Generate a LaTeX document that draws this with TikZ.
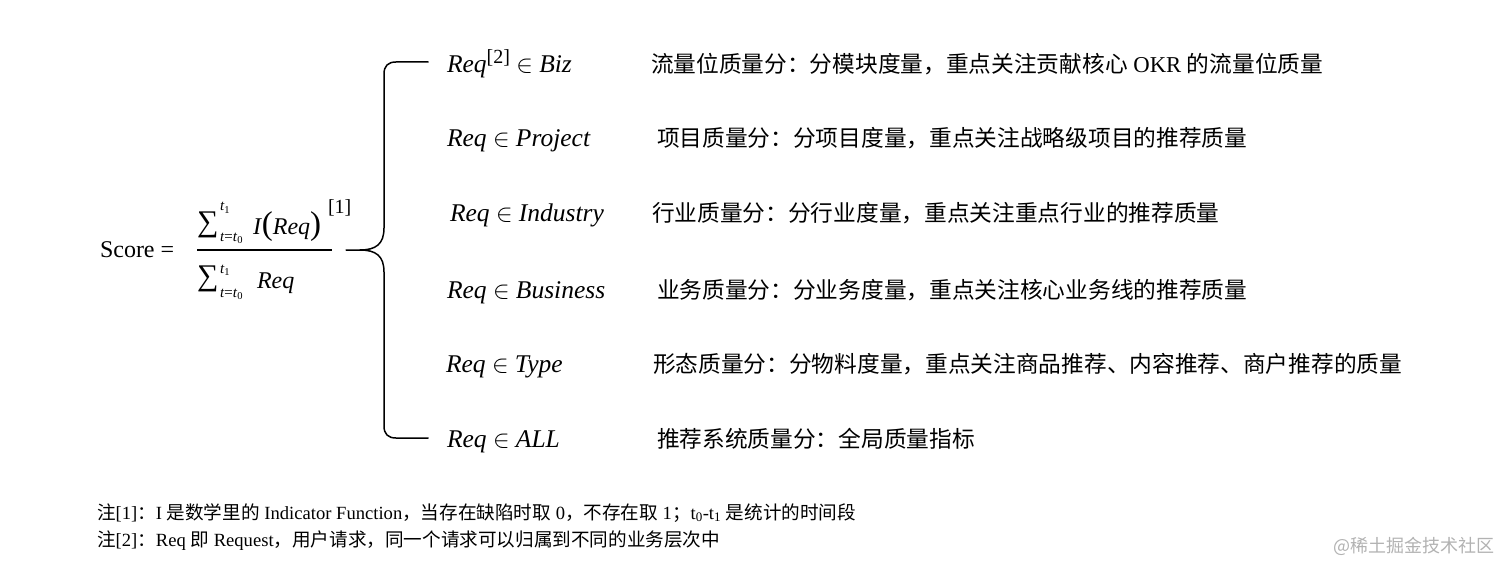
\documentclass[tikz,border=0pt]{standalone}
\usepackage{fontspec}
\setmainfont{Liberation Serif}
\newfontfamily\cjk{Noto Sans CJK SC}
\tikzset{
  base/.style={anchor=base west, inner sep=0pt, outer sep=0pt},
  lbl/.style={base, font=\fontsize{25.5}{30}\selectfont},
  zh/.style={base, font=\cjk\fontsize{22.7}{28}\selectfont},
  note/.style={base, font=\fontsize{18.6}{22}\selectfont},
  big/.style={base, font=\fontsize{24}{28}\selectfont},
  sig/.style={base, font=\fontsize{30}{34}\selectfont},
  lim/.style={base, font=\fontsize{15}{18}\selectfont},
  foot/.style={base, font=\fontsize{20}{24}\selectfont},
  brace/.style={line width=1.5pt, line join=round, line cap=round},
  wm/.style={base, font=\cjk\fontsize{18}{22}\selectfont, text=black!30},
}
\newcommand\zh[1]{{\cjk #1}}
\newcommand\bigpar[1]{{\fontsize{33}{36}\selectfont #1}}
\begin{document}
\begin{tikzpicture}[x=1pt,y=-1pt]
\useasboundingbox (0,0) rectangle (1512,572);

% left formula
\node[big] (score) at (100,257) {Score =};
\node[sig] (s1) at (197,231) {∑};
\node[lim] (s1sup) at (220,211) {\textit{t}\textsubscript{\upshape 1}};
\node[lim] (s1sub) at (220,241) {\textit{t}=\textit{t}\textsubscript{\upshape 0}};
\node[big] (ireq) at (253,234) {\textit{I}\bigpar{(}\textit{Req}\bigpar{)}};
\node[foot] (fn1) at (328,214) {[1]};
\coordinate (barL) at (197,250);
\coordinate (barR) at (332,250);
\draw[line width=1.5pt] (barL) -- (barR);
\node[sig] (s2) at (197,285) {∑};
\node[lim] (s2sup) at (220,273) {\textit{t}\textsubscript{\upshape 1}};
\node[lim] (s2sub) at (220,297) {\textit{t}=\textit{t}\textsubscript{\upshape 0}};
\node[big] (dreq) at (257,288) {\textit{Req}};

% brace
\coordinate (tip) at (346,250);
\coordinate (top) at (428,62);
\coordinate (bot) at (428,438);
\draw[brace] (top) -- (396,62) .. controls (388,62) and (384,66) .. (384,74)
  -- (384,228) .. controls (384,244) and (376,250) .. (360,250) -- (tip);
\draw[brace] (360,250) .. controls (376,250) and (384,256) .. (384,272)
  -- (384,426) .. controls (384,434) and (388,438) .. (396,438) -- (bot);

% rows
\node[lbl] (m1) at (447,73) {\textit{Req}\raisebox{9pt}{\fontsize{20}{24}\selectfont[2]} $\in$ \textit{Biz}};
\node[lbl] (m2) at (447,147) {\textit{Req} $\in$ \textit{Project}};
\node[lbl] (m3) at (450,222) {\textit{Req} $\in$ \textit{Industry}};
\node[lbl] (m4) at (447,298) {\textit{Req} $\in$ \textit{Business}};
\node[lbl] (m5) at (446,372) {\textit{Req} $\in$ \textit{Type}};
\node[lbl] (m6) at (447,447) {\textit{Req} $\in$ \textit{ALL}};

\node[zh] (z1) at (651,73) {流量位质量分：分模块度量，重点关注贡献核心{\rmfamily\ OKR }的流量位质量};
\node[zh] (z2) at (657,147) {项目质量分：分项目度量，重点关注战略级项目的推荐质量};
\node[zh] (z3) at (652,222) {行业质量分：分行业度量，重点关注重点行业的推荐质量};
\node[zh] (z4) at (657,298) {业务质量分：分业务度量，重点关注核心业务线的推荐质量};
\node[zh] (z5) at (653,372) {形态质量分：分物料度量，重点关注商品推荐、内容推荐、商户推荐的质量};
\node[zh] (z6) at (657,447) {推荐系统质量分：全局质量指标};

% notes
\node[note] (n1) at (97,519) {\zh{注}[1]\zh{：}I \zh{是数学里的} Indicator Function\zh{，当存在缺陷时取} 0\zh{，不存在取} 1\zh{；}t\textsubscript{0}-t\textsubscript{1} \zh{是统计的时间段}};
\node[note] (n2) at (97,546) {\zh{注}[2]\zh{：}Req \zh{即} Request\zh{，用户请求，同一个请求可以归属到不同的业务层次中}};

\node[wm] (wm) at (1333,552) {@稀土掘金技术社区};
\end{tikzpicture}
\end{document}
